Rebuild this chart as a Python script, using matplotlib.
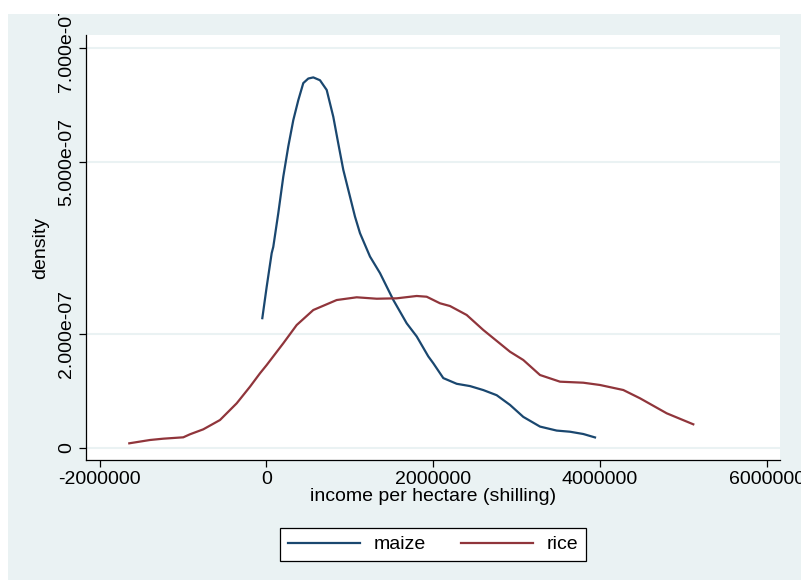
import numpy as np
import matplotlib
matplotlib.use("Agg")
import matplotlib.pyplot as plt
from matplotlib.patches import Rectangle

# density estimates (density in units of 1e-7)
maize_x = [-50000, 2400, 62350, 81530, 141490, 201440, 261390, 321340, 381290,
           441250, 501200, 561150, 641480, 721820, 800960, 860910, 920860,
           1001200, 1061150, 1121100, 1241000, 1360900, 1520370, 1681040,
           1800940, 1940030, 2000000, 2119900, 2280600, 2440000, 2599500,
           2760200, 2919700, 3079100, 3279400, 3479600, 3639100, 3798600, 3938900]
maize_y = [2.27, 2.82, 3.41, 3.52, 4.11, 4.75, 5.28, 5.74, 6.09,
           6.39, 6.47, 6.49, 6.44, 6.27, 5.80, 5.33, 4.87,
           4.40, 4.05, 3.76, 3.35, 3.06, 2.59, 2.18,
           1.95, 1.60, 1.48, 1.22, 1.12, 1.08, 1.01,
           0.92, 0.75, 0.54, 0.37, 0.30, 0.28, 0.24, 0.18]

rice_x = [-1645000, -1396900, -1237400, -997600, -917300, -757800, -557600,
          -357300, -197800, -77900, 2400, 201440, 362100, 561150, 841730,
          1081500, 1321300, 1561100, 1800900, 1920800, 2080300, 2200200,
          2400500, 2599500, 2919700, 3079100, 3279400, 3519200, 3798600,
          3998800, 4278200, 4478400, 4798500, 5117400]
rice_y = [0.077, 0.135, 0.158, 0.182, 0.235, 0.322, 0.485,
          0.778, 1.069, 1.304, 1.449, 1.830, 2.150, 2.413, 2.588,
          2.636, 2.611, 2.618, 2.659, 2.646, 2.531, 2.483,
          2.326, 2.063, 1.682, 1.537, 1.274, 1.157, 1.139,
          1.099, 1.011, 0.866, 0.603, 0.410]

x_ticks = [-2000000, 0, 2000000, 4000000, 6000000]
x_labels = ["-2000000", "0", "2000000", "4000000", "6000000"]
y_ticks = [0, 2e-7, 5e-7, 7e-7]
y_labels = ["0", "2.000e-07", "5.000e-07", "7.000e-07"]

bg = "#EAF2F3"
navy = "#1A476F"
maroon = "#90353B"

plt.rcParams['font.family'] = ['Liberation Sans', 'DejaVu Sans']

fig = plt.figure(figsize=(8.01, 5.8), dpi=100, facecolor="white")
# light background of the graph region
fig.add_artist(Rectangle((8 / 801, 0), 1, 1 - 14 / 580, transform=fig.transFigure,
                         facecolor=bg, edgecolor="none", zorder=-5))

ax = fig.add_axes([86 / 801, 120 / 580, 694 / 801, 425 / 580])
ax.set_facecolor("white")

ax.plot(maize_x, np.array(maize_y) * 1e-7, color=navy, lw=1.6, label="maize")
ax.plot(rice_x, np.array(rice_y) * 1e-7, color=maroon, lw=1.6, label="rice")

ax.set_xlim(-2.164e6, 6.157e6)
ax.set_ylim(-0.2156e-7, 7.233e-7)

ax.set_xticks(x_ticks)
ax.set_xticklabels(x_labels)
ax.set_yticks(y_ticks)
ax.set_yticklabels(y_labels, rotation=90, va="center")

ax.grid(axis="y", color=bg, lw=1.5)
ax.set_axisbelow(True)
for s in ["top", "right"]:
    ax.spines[s].set_visible(False)
for s in ["left", "bottom"]:
    ax.spines[s].set_color("black")
    ax.spines[s].set_linewidth(0.9)
ax.tick_params(axis="both", labelsize=14, length=5, width=0.9, color="black", pad=3)

ax.set_xlabel("income per hectare (shilling)", fontsize=14, labelpad=0)
ax.set_ylabel("density", fontsize=14, labelpad=6)

leg = ax.legend(loc="center", bbox_to_anchor=(433 / 801, 1 - 544.5 / 580),
                bbox_transform=fig.transFigure, ncol=2, fontsize=14,
                handlelength=3.7, handletextpad=0.7, columnspacing=1.8,
                borderpad=0.4, fancybox=False, framealpha=1)
leg.get_frame().set_edgecolor("black")
leg.get_frame().set_linewidth(0.9)

# white margin at top/left of the screenshot (cuts the top tick label)
fig.add_artist(Rectangle((0, 1 - 14 / 580), 1, 14 / 580, transform=fig.transFigure,
                         facecolor="white", edgecolor="none", zorder=10))
fig.add_artist(Rectangle((0, 0), 8 / 801, 1, transform=fig.transFigure,
                         facecolor="white", edgecolor="none", zorder=10))

fig.savefig("out.png", dpi=100, facecolor=fig.get_facecolor())
